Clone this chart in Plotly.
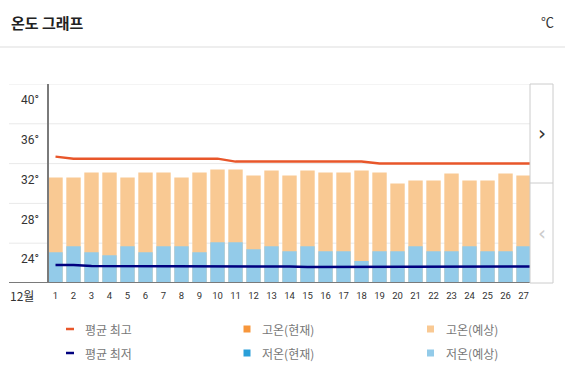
import plotly.graph_objects as go

# ---- data ----
days = list(range(1, 28))
day_labels = [str(d) for d in days]
high_forecast = [30.6, 30.6, 31.1, 31.1, 30.6, 31.1, 31.1, 30.6, 31.1, 31.4, 31.4, 30.8, 31.3, 30.8,
                 31.3, 31.1, 31.1, 31.3, 31.1, 30.0, 30.3, 30.3, 31.0, 30.3, 30.3, 31.0, 30.8]
low_forecast = [23.1, 23.7, 23.1, 22.8, 23.7, 23.1, 23.7, 23.7, 23.1, 24.1, 24.1, 23.4, 23.7, 23.2,
                23.7, 23.2, 23.2, 22.2, 23.2, 23.2, 23.7, 23.2, 23.2, 23.7, 23.2, 23.2, 23.7]
line_days = list(range(1, 29))
avg_high = [32.7] + [32.5] * 9 + [32.2] * 8 + [32.0] * 10
avg_low = [21.8, 21.8] + [21.7] * 8 + [21.65] * 4 + [21.6] * 12 + [21.65, 21.7]
y_ticks = [24, 28, 32, 36, 40]
y_tick_labels = ["24°", "28°", "32°", "36°", "40°"]

legend_items = [
    ("평균 최고", "line", "#e8562a"),
    ("고온(현재)", "square", "#f7963b"),
    ("고온(예상)", "square", "#f9c993"),
    ("평균 최저", "line", "#00007f"),
    ("저온(현재)", "square", "#2a9fd8"),
    ("저온(예상)", "square", "#93cbe9"),
]

W, H = 565, 385
L, R, T, B = 48, 530, 84, 283
PW, PH = R - L, B - T


def xp(px):
    return (px - L) / PW


def yp(py):
    return (B - py) / PH


KR = "Noto Sans CJK KR"

fig = go.Figure()
fig.add_trace(go.Bar(x=days, y=high_forecast, width=0.8, marker=dict(color="#f9c993", line_width=0),
                     opacity=1, showlegend=False, hoverinfo="skip"))
fig.add_trace(go.Bar(x=days, y=low_forecast, width=0.8, marker=dict(color="#93cbe9", line_width=0),
                     opacity=1, showlegend=False, hoverinfo="skip"))
fig.add_trace(go.Scatter(x=line_days, y=avg_high, mode="lines", line=dict(color="#e8562a", width=2.5),
                         showlegend=False, hoverinfo="skip"))
fig.add_trace(go.Scatter(x=line_days, y=avg_low, mode="lines", line=dict(color="#00007f", width=2.5),
                         showlegend=False, hoverinfo="skip"))

shapes = []
annotations = []

# gridlines
for v in y_ticks:
    shapes.append(dict(type="line", xref="paper", yref="y", x0=xp(9), x1=1, y0=v, y1=v,
                       line=dict(color="#e9e9e9", width=1), layer="below"))
# bottom axis line
shapes.append(dict(type="line", xref="paper", yref="y", x0=xp(9), x1=1, y0=20, y1=20,
                   line=dict(color="#7a7a7a", width=2), layer="above"))
# left axis line
shapes.append(dict(type="line", xref="paper", yref="paper", x0=0, x1=0, y0=0, y1=1,
                   line=dict(color="#7a7a7a", width=2), layer="above"))
# header separator
shapes.append(dict(type="line", xref="paper", yref="paper", x0=xp(0), x1=xp(565), y0=yp(47), y1=yp(47),
                   line=dict(color="#dddddd", width=1)))
# navigation box
shapes.append(dict(type="rect", xref="paper", yref="paper", x0=xp(530), x1=xp(553), y0=yp(283), y1=yp(84),
                   line=dict(color="#cccccc", width=1), fillcolor="rgba(0,0,0,0)"))
shapes.append(dict(type="line", xref="paper", yref="paper", x0=xp(530), x1=xp(553), y0=yp(183), y1=yp(183),
                   line=dict(color="#cccccc", width=1)))
annotations.append(dict(x=xp(541.5), y=yp(133), xref="paper", yref="paper", text="›", showarrow=False,
                        font=dict(family="DejaVu Sans", size=20, color="#333333"), xanchor="center", yanchor="middle"))
annotations.append(dict(x=xp(541.5), y=yp(233), xref="paper", yref="paper", text="‹", showarrow=False,
                        font=dict(family="DejaVu Sans", size=20, color="#cccccc"), xanchor="center", yanchor="middle"))

# title and unit
annotations.append(dict(x=xp(9), y=yp(22), xref="paper", yref="paper", text="<b>온도 그래프</b>", showarrow=False,
                        font=dict(family=KR, size=15, color="#222222"), xanchor="left", yanchor="middle"))
annotations.append(dict(x=xp(556), y=yp(21), xref="paper", yref="paper", text="℃", showarrow=False,
                        font=dict(family=KR, size=13, color="#333333"), xanchor="right", yanchor="middle"))
# month label
annotations.append(dict(x=xp(22), y=yp(295), xref="paper", yref="paper", text="12월", showarrow=False,
                        font=dict(family=KR, size=12, color="#333333"), xanchor="center", yanchor="middle"))

# legend
col_x = [70, 247, 430.5]
row_y = [329, 353]
for i, (name, kind, color) in enumerate(legend_items):
    cx = col_x[i % 3]
    cy = row_y[i // 3]
    if kind == "line":
        shapes.append(dict(type="line", xref="paper", yref="paper", x0=xp(cx - 4), x1=xp(cx + 4),
                           y0=yp(cy), y1=yp(cy), line=dict(color=color, width=2.5)))
    else:
        shapes.append(dict(type="rect", xref="paper", yref="paper", x0=xp(cx - 3.5), x1=xp(cx + 3.5),
                           y0=yp(cy + 3.5), y1=yp(cy - 3.5), line=dict(width=0), fillcolor=color))
    annotations.append(dict(x=xp(cx + 13), y=yp(cy), xref="paper", yref="paper", text=name, showarrow=False,
                            font=dict(family=KR, size=12, color="#777777"), xanchor="left", yanchor="middle"))

fig.update_layout(
    width=W, height=H, autosize=False,
    margin=dict(l=L, r=W - R, t=T, b=H - B, pad=0),
    paper_bgcolor="white", plot_bgcolor="white",
    barmode="overlay", bargap=0.2,
    shapes=shapes, annotations=annotations,
    xaxis=dict(range=[0.583, 27.36], tickmode="array", tickvals=days, ticktext=day_labels,
               showgrid=False, zeroline=False, showline=False, ticks="",
               ticklabelstandoff=5,
               tickfont=dict(family="Roboto", size=9.5, color="#333333"), fixedrange=True),
    yaxis=dict(range=[20, 40], tickmode="array", tickvals=y_ticks, ticktext=y_tick_labels,
               showgrid=False, zeroline=False, showline=False, ticks="",
               ticklabelshift=16, ticklabelstandoff=8,
               tickfont=dict(family="Roboto", size=12, color="#333333"), fixedrange=True),
)

fig.write_html("out.html", config={"displayModeBar": False},
               post_script="document.body.style.margin='0';document.body.style.padding='0';")
